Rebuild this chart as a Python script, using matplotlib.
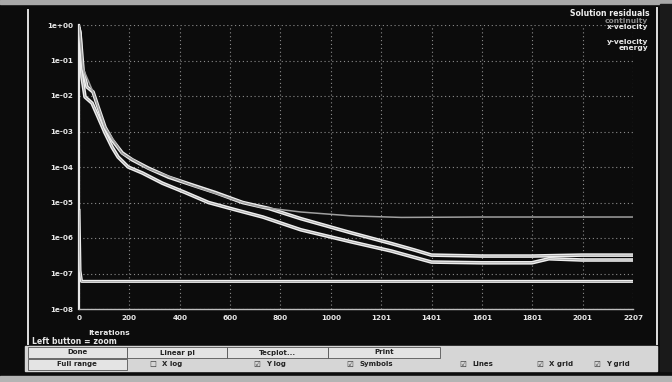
import numpy as np
import matplotlib
matplotlib.use("Agg")
from matplotlib import pyplot as plt
from matplotlib.patches import Rectangle
from matplotlib.lines import Line2D

# residual history (iteration, residual)
cont_it = [0, 16, 56, 104, 172, 276, 452, 652, 724, 884, 1084, 1284, 1600, 2207]
cont_res = [1.0, 6.0e-2, 1.3e-2, 1.3e-3, 2.4e-4, 9.0e-5, 3.0e-5, 1.0e-5,
            7.4e-6, 5.4e-6, 4.2e-6, 3.8e-6, 3.9e-6, 3.9e-6]

xvel_it = [0, 4, 16, 32, 56, 76, 104, 132, 172, 212, 276, 356, 452, 544,
           652, 756, 884, 1084, 1244, 1336, 1404, 1604, 1804, 2004, 2207]
xvel_res = [8.0e-1, 5.9e-1, 5.4e-2, 1.8e-2, 1.3e-2, 4.9e-3, 1.3e-3, 5.8e-4,
            2.5e-4, 1.6e-4, 9.3e-5, 5.2e-5, 3.1e-5, 1.9e-5, 1.0e-5, 6.8e-6,
            3.5e-6, 1.4e-6, 7.0e-7, 4.6e-7, 3.3e-7, 3.1e-7, 3.1e-7, 3.3e-7,
            3.3e-7]

yvel_it = [0, 4, 12, 24, 52, 76, 104, 132, 156, 196, 252, 332, 424, 516,
           624, 732, 884, 1084, 1244, 1404, 1604, 1804, 1872, 2004, 2207]
yvel_res = [8.0e-1, 5.9e-1, 3.4e-2, 9.4e-3, 6.3e-3, 2.6e-3, 9.1e-4, 3.6e-4,
            1.9e-4, 1.0e-4, 6.8e-5, 3.5e-5, 1.9e-5, 1.0e-5, 6.2e-6, 3.9e-6,
            1.7e-6, 7.8e-7, 4.3e-7, 2.1e-7, 2.0e-7, 2.0e-7, 2.6e-7, 2.4e-7,
            2.4e-7]

energy_it = [0, 4, 10, 2207]
energy_res = [6.0e-6, 1.2e-7, 6.0e-8, 6.0e-8]

legend_names = ["continuity", "x-velocity", "y-velocity", "energy"]
legend_cols = ["#8a8a8a", "#e8e8e8", "#e8e8e8", "#e8e8e8"]

x_max = 2207
x_ticklabels = ["0", "200", "400", "600", "800", "1000", "1201", "1401",
                "1601", "1801", "2001", "2207"]
y_ticks = [1e0, 1e-1, 1e-2, 1e-3, 1e-4, 1e-5, 1e-6, 1e-7, 1e-8]
y_ticklabels = ["1e+00", "1e-01", "1e-02", "1e-03", "1e-04", "1e-05",
                "1e-06", "1e-07", "1e-08"]

W, H = 672, 382
fig = plt.figure(figsize=(W / 100, H / 100), dpi=100)
fig.patch.set_facecolor("#0c0c0c")


def fx(px):
    return px / W


def fy(py):
    return 1 - py / H


# window decorations (photo of a screen)
fig.patches.append(Rectangle((0, fy(4)), 1, 4 / H, transform=fig.transFigure,
                             color="#a8a8a8", zorder=0))
fig.patches.append(Rectangle((fx(25), fy(371)), fx(632), 25 / H,
                             transform=fig.transFigure, color="#d6d6d6", zorder=0))
fig.patches.append(Rectangle((0, 0), 1, 6 / H, transform=fig.transFigure,
                             color="#b4b4b4", zorder=0))
fig.patches.append(Rectangle((fx(660), fy(371)), fx(12), 367 / H,
                             transform=fig.transFigure, color="#1a1a1a", zorder=0))
fig.lines.append(Line2D([fx(28), fx(28)], [fy(10), fy(344)],
                        transform=fig.transFigure, color="#e0e0e0", lw=1.4))
fig.lines.append(Line2D([fx(657), fx(657)], [fy(8), fy(344)],
                        transform=fig.transFigure, color="#e0e0e0", lw=1.4))

ax = fig.add_axes([fx(79), fy(309), fx(554), 284 / H])
ax.set_facecolor("#0c0c0c")

# bright lines look "doubled" on the photographed screen: wide white + grey core
for it, res, lw in [(energy_it, energy_res, 2.2), (yvel_it, yvel_res, 2.6),
                    (xvel_it, xvel_res, 2.6)]:
    ax.plot(it, res, color="#eeeeee", lw=lw, zorder=3, solid_joinstyle="round")
    ax.plot(it, res, color="#9a9a9a", lw=0.5, zorder=3)
ax.plot(cont_it, cont_res, color="#a0a0a0", lw=1.1, zorder=4)

ax.set_yscale("log")
ax.set_ylim(1e-8, 1e0)
ax.set_xlim(0, x_max)
ax.set_yticks(y_ticks)
ax.set_yticklabels(y_ticklabels)
ax.minorticks_off()
ax.set_xticks(np.linspace(0, x_max, len(x_ticklabels)))
ax.set_xticklabels(x_ticklabels)
ax.tick_params(colors="#e8e8e8", length=0, labelsize=5.2, pad=4)
for lab in ax.get_xticklabels() + ax.get_yticklabels():
    lab.set_fontweight("bold")

ax.grid(True, color="#8c8c8c", linestyle=(0, (1, 2.5)), lw=0.8)
for s in ["top", "right"]:
    ax.spines[s].set_visible(False)
ax.spines["left"].set_color("#e8e8e8")
ax.spines["left"].set_linewidth(1.6)
ax.spines["bottom"].set_color("#bdbdbd")
ax.spines["bottom"].set_linewidth(1.0)

# legend block
fig.text(fx(650), fy(13), "Solution residuals", color="#f0f0f0", fontsize=5.6,
         fontweight="bold", ha="right", va="center")
for name, col, py in zip(legend_names, legend_cols, [21, 27, 42, 48]):
    fig.text(fx(648), fy(py), name, color=col, fontsize=5.4,
             fontweight="bold", ha="right", va="center")

fig.text(fx(109), fy(333), "Iterations", color="#e8e8e8", fontsize=5.4,
         fontweight="bold", ha="center", va="center")
fig.text(fx(32), fy(342), "Left button = zoom", color="#e8e8e8", fontsize=5.6,
         fontweight="bold", ha="left", va="center")

# button panel
for x0, x1, label in [(28, 127, "Done"), (127, 227, "Linear pl"),
                      (227, 328, "Tecplot..."), (328, 440, "Print")]:
    fig.patches.append(Rectangle((fx(x0), fy(358)), fx(x1 - x0), 11 / H,
                                 transform=fig.transFigure, facecolor="#e4e4e4",
                                 edgecolor="#555555", lw=0.6))
    fig.text(fx((x0 + x1) / 2), fy(352.5), label, color="#222222", fontsize=5,
             fontweight="bold", ha="center", va="center")
fig.patches.append(Rectangle((fx(28), fy(370)), fx(99), 11 / H,
                             transform=fig.transFigure, facecolor="#e4e4e4",
                             edgecolor="#555555", lw=0.6))
fig.text(fx(77), fy(364), "Full range", color="#222222", fontsize=5,
         fontweight="bold", ha="center", va="center")
for cx, label, checked in [(153, "X log", False), (257, "Y log", True),
                           (350, "Symbols", True), (463, "Lines", True),
                           (540, "X grid", True), (597, "Y grid", True)]:
    fig.text(fx(cx), fy(364), "\u2611" if checked else "\u2610", color="#333333",
             fontsize=5.5, ha="center", va="center")
    fig.text(fx(cx + 9), fy(364), label, color="#222222", fontsize=5,
             fontweight="bold", ha="left", va="center")

fig.savefig("out.png", dpi=100, facecolor=fig.get_facecolor())
